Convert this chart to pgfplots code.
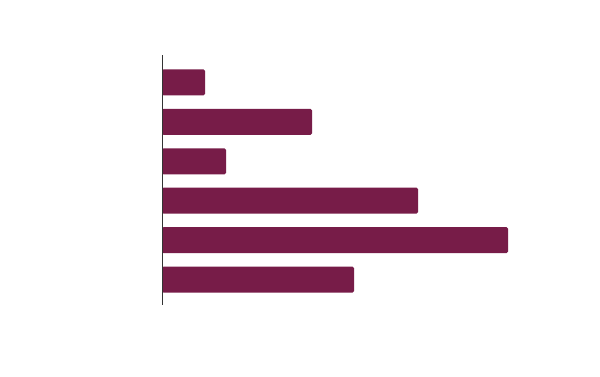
\documentclass[border=0pt]{standalone}
\usepackage{pgfplots}
\pgfplotsset{compat=1.18}
\definecolor{barc}{HTML}{771C48}
\definecolor{axc}{HTML}{333333}
\begin{document}
\begin{tikzpicture}
\path[use as bounding box, fill=white] (0,0) rectangle (600bp,377bp);
\begin{axis}[
  at={(162bp,72bp)}, anchor=south west,
  scale only axis, width=346bp, height=250bp,
  xmin=0, xmax=346, ymin=0.305, ymax=6.645, y dir=reverse,
  xbar, bar width=0.66, bar shift=0pt,
  axis x line=none, axis y line*=left,
  y axis line style={draw=axc, line width=0.8bp, -},
  ytick=\empty, xtick=\empty,
  axis on top,
]
\addplot[fill=barc, draw=none, rounded corners=1.5bp] coordinates {
  (43,1) (150,2) (64,3) (256,4) (346,5) (192,6)
};
\end{axis}
\end{tikzpicture}
\end{document}
